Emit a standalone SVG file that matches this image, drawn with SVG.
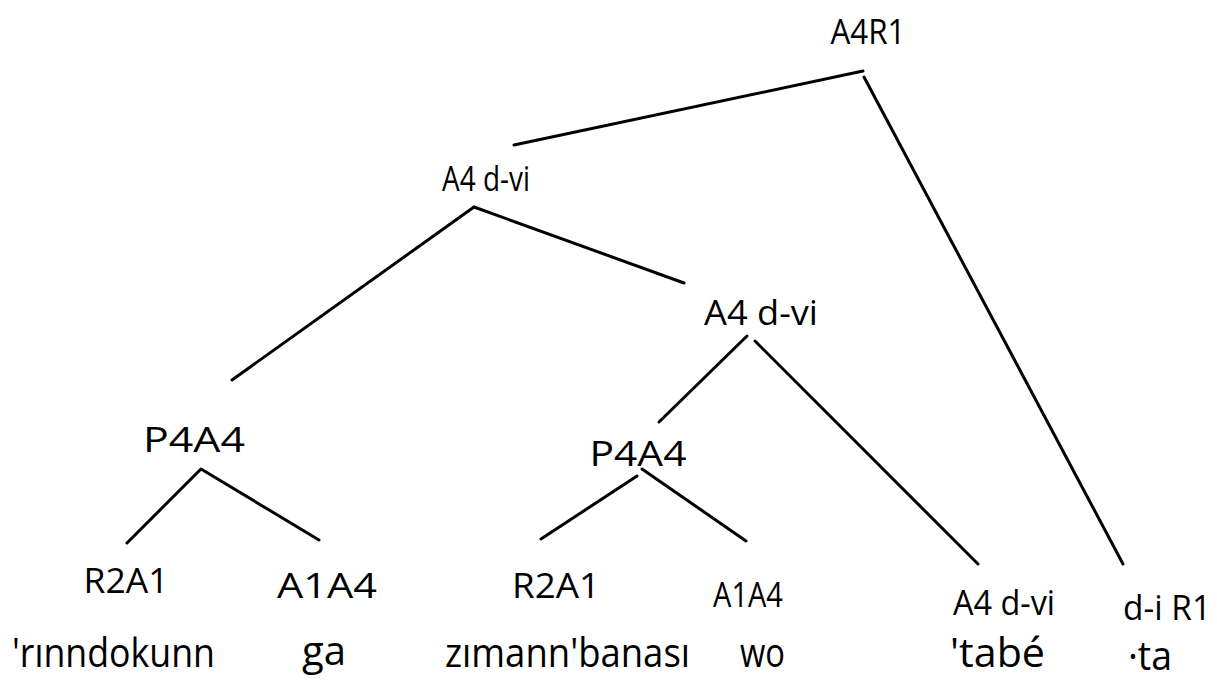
<svg xmlns="http://www.w3.org/2000/svg" width="1217" height="686" viewBox="0 0 1217 686">
<style>
.bg{fill:#ffffff}
.e{stroke:#000;stroke-width:3;stroke-linecap:round;fill:none}
.lb{font-family:"Open Sans","Liberation Sans",sans-serif;font-size:35px;fill:#000;text-anchor:middle}
.w{font-family:"Open Sans","Liberation Sans",sans-serif;font-size:40px;fill:#000}
</style>
<rect class="bg" width="1217" height="686"/>
<g id="connectors">
<line class="e" x1="514" y1="145" x2="863" y2="71"/>
<line class="e" x1="864" y1="77" x2="1123" y2="564"/>
<line class="e" x1="474" y1="207" x2="232" y2="380"/>
<line class="e" x1="474" y1="207" x2="684" y2="283"/>
<line class="e" x1="747" y1="336" x2="659" y2="422"/>
<line class="e" x1="755" y1="341" x2="978" y2="564"/>
<line class="e" x1="200" y1="470" x2="127" y2="543"/>
<line class="e" x1="201" y1="469" x2="319" y2="540"/>
<line class="e" x1="637" y1="476" x2="541" y2="539"/>
<line class="e" x1="642" y1="469" x2="746" y2="541"/>
</g>
<g id="n-root"><text class="lb" x="868" y="44" textLength="75" lengthAdjust="spacingAndGlyphs">A4R1</text></g>
<g id="n-vp1"><text class="lb" x="486" y="191" textLength="88" lengthAdjust="spacingAndGlyphs">A4 d-vi</text></g>
<g id="n-vp2"><text class="lb" x="761" y="325" textLength="114" lengthAdjust="spacingAndGlyphs">A4 d-vi</text></g>
<g id="n-pp1"><text class="lb" x="194" y="452" textLength="102" lengthAdjust="spacingAndGlyphs">P4A4</text></g>
<g id="n-pp2"><text class="lb" x="638" y="466" textLength="97" lengthAdjust="spacingAndGlyphs">P4A4</text></g>
<g id="n-n1"><text class="lb" x="126" y="593" textLength="85" lengthAdjust="spacingAndGlyphs">R2A1</text>
<text class="w" x="12" y="667" textLength="203" lengthAdjust="spacingAndGlyphs">'rınndokunn</text></g>
<g id="n-p1"><text class="lb" x="327" y="598" textLength="100" lengthAdjust="spacingAndGlyphs">A1A4</text>
<text class="w" x="302" y="665" textLength="44" lengthAdjust="spacingAndGlyphs">ga</text></g>
<g id="n-n2"><text class="lb" x="556" y="598" textLength="88" lengthAdjust="spacingAndGlyphs">R2A1</text>
<text class="w" x="445" y="667" textLength="245" lengthAdjust="spacingAndGlyphs">zımann'banası</text></g>
<g id="n-p2"><text class="lb" x="748" y="607" textLength="70" lengthAdjust="spacingAndGlyphs">A1A4</text>
<text class="w" x="740" y="667" textLength="45" lengthAdjust="spacingAndGlyphs">wo</text></g>
<g id="n-v"><text class="lb" x="1004" y="615" textLength="102" lengthAdjust="spacingAndGlyphs">A4 d-vi</text>
<text class="w" x="950" y="667" textLength="95" lengthAdjust="spacingAndGlyphs">'tabé</text></g>
<g id="n-t"><text class="lb" x="1167" y="620" textLength="88" lengthAdjust="spacingAndGlyphs">d-i R1</text>
<text class="w" x="1128" y="670" textLength="44" lengthAdjust="spacingAndGlyphs">·ta</text></g>
</svg>
